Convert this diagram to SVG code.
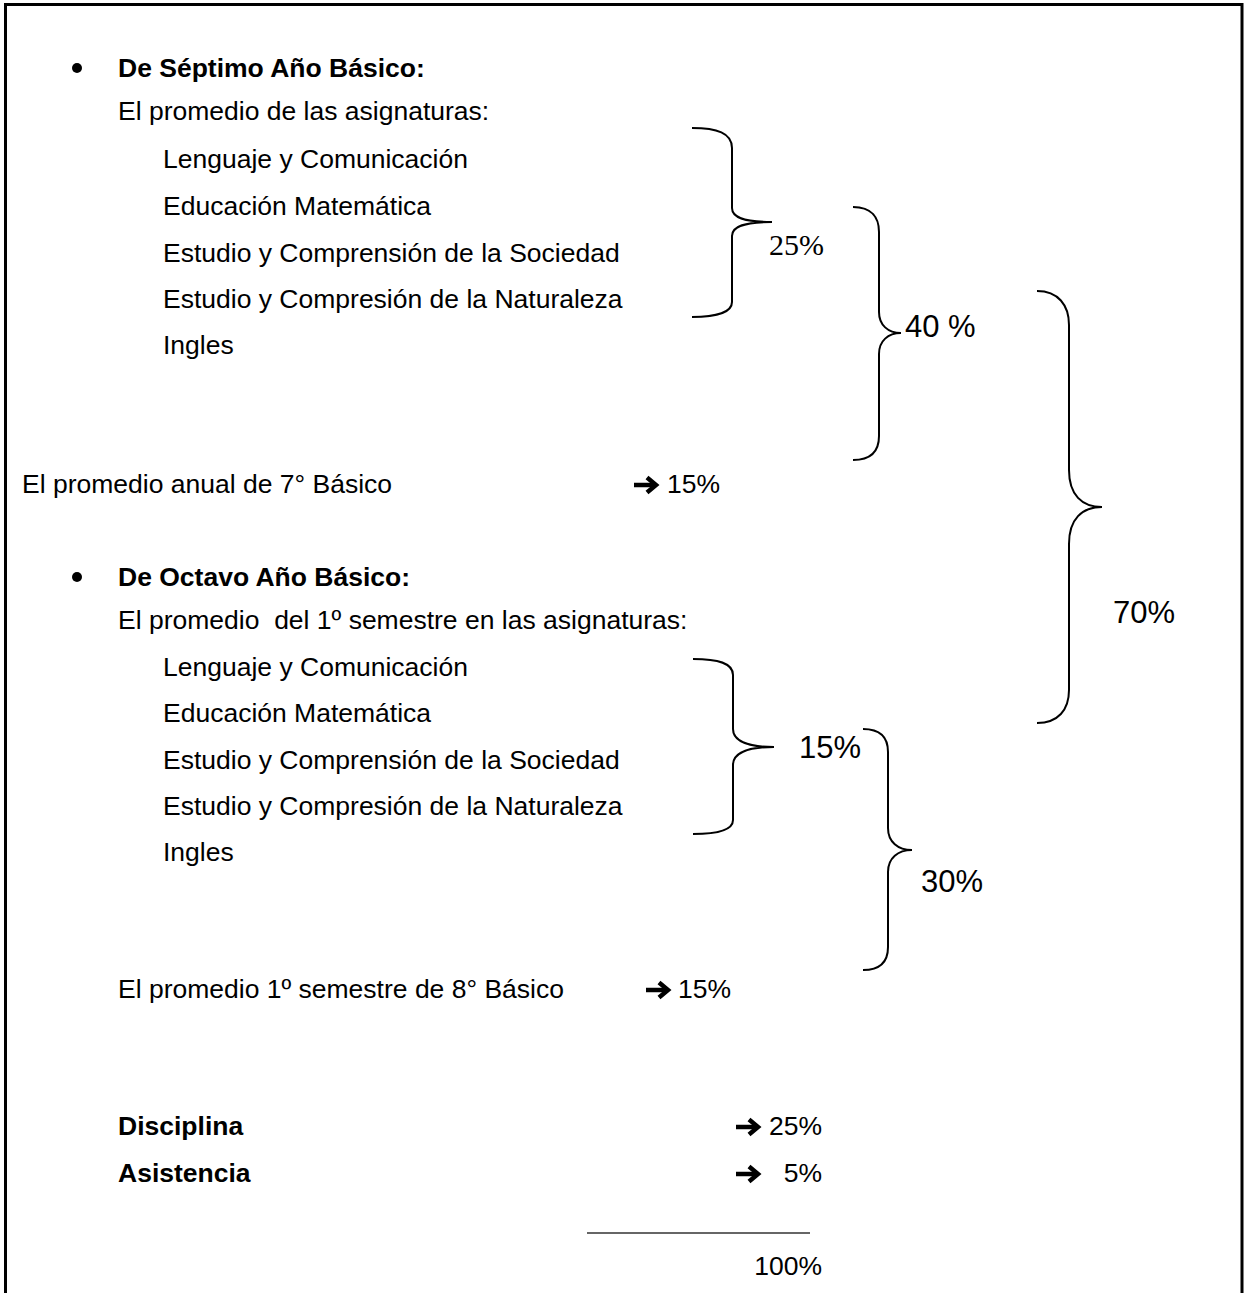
<svg xmlns="http://www.w3.org/2000/svg" width="1245" height="1293" viewBox="0 0 1245 1293">
<defs>
<style>
text{font-family:"Liberation Sans",Arial,sans-serif;fill:#000}
.t{font-size:26.5px}
.b{font-size:26.5px;font-weight:bold}
.pct{font-size:31px}
.ser{font-family:"Liberation Serif","Times New Roman",serif;font-size:30px}
.brace{fill:none;stroke:#000;stroke-width:2}
.pre{white-space:pre}
</style>
<g id="arr">
<path d="M0,0 H21" stroke="#000" stroke-width="4.5" fill="none"/>
<path d="M13,-7.5 L22,0 L13,7.5" stroke="#000" stroke-width="4.5" fill="none" stroke-miterlimit="10"/>
</g>
</defs>
<rect width="1245" height="1293" fill="#fff"/>
<path d="M5.5,1293 V4.5 H1242 V1293" fill="none" stroke="#000" stroke-width="3"/>

<g id="septimo">
<circle cx="77" cy="68" r="5" fill="#000"/>
<text class="b" x="118" y="77">De Séptimo Año Básico:</text>
<text class="t" x="118" y="120">El promedio de las asignaturas:</text>
<text class="t" x="163" y="168">Lenguaje y Comunicación</text>
<text class="t" x="163" y="215">Educación Matemática</text>
<text class="t" x="163" y="262">Estudio y Comprensión de la Sociedad</text>
<text class="t" x="163" y="308">Estudio y Compresión de la Naturaleza</text>
<text class="t" x="163" y="354">Ingles</text>
</g>

<g id="anual7">
<text class="t" x="22" y="493">El promedio anual de 7° Básico</text>
<use href="#arr" x="634" y="485"/>
<text class="t" x="720" y="493" text-anchor="end">15%</text>
</g>

<g id="octavo">
<circle cx="77" cy="577" r="5" fill="#000"/>
<text class="b" x="118" y="586">De Octavo Año Básico:</text>
<text class="t pre" x="118" y="629" xml:space="preserve">El promedio  del 1º semestre en las asignaturas:</text>
<text class="t" x="163" y="676">Lenguaje y Comunicación</text>
<text class="t" x="163" y="722">Educación Matemática</text>
<text class="t" x="163" y="769">Estudio y Comprensión de la Sociedad</text>
<text class="t" x="163" y="815">Estudio y Compresión de la Naturaleza</text>
<text class="t" x="163" y="861">Ingles</text>
</g>

<g id="sem8">
<text class="t" x="118" y="998">El promedio 1º semestre de 8° Básico</text>
<use href="#arr" x="646" y="990"/>
<text class="t" x="731" y="998" text-anchor="end">15%</text>
</g>

<g id="disciplina">
<text class="b" x="118" y="1135">Disciplina</text>
<use href="#arr" x="736" y="1127"/>
<text class="t" x="822" y="1135" text-anchor="end">25%</text>
</g>
<g id="asistencia">
<text class="b" x="118" y="1182">Asistencia</text>
<use href="#arr" x="736" y="1174"/>
<text class="t" x="822" y="1182" text-anchor="end">5%</text>
</g>
<g id="total">
<line x1="587" y1="1233" x2="810" y2="1233" stroke="#333" stroke-width="1.5"/>
<text class="t" x="822" y="1275" text-anchor="end">100%</text>
</g>

<g id="connectors">
<path class="brace" d="M692,128 C717,128 732,133 732,148 V208 C732,218 745,222 772,222 C745,222 732,226 732,236 V302 C732,312 717,317 692,317"/>
<path class="brace" d="M853,207 C872,207 879,218 879,232 V312 C879,325 888,333 901,333 C888,333 879,341 879,354 V436 C879,450 872,460 853,460"/>
<path class="brace" d="M1037,291 C1058,291 1069,305 1069,325 V470 C1069,495 1082,507 1102,507 C1082,507 1069,519 1069,544 V690 C1069,710 1058,723 1037,723"/>
<path class="brace" d="M693,659 C718,659 733,663 733,675 V729 C733,740 746,747 774,747 C746,747 733,754 733,765 V820 C733,830 718,834 693,834"/>
<path class="brace" d="M863,729 C880,729 888,737 888,752 V828 C888,842 898,850 912,850 C898,850 888,858 888,872 V947 C888,962 880,970 863,970"/>
</g>

<g id="labels">
<text class="ser" x="769" y="255">25%</text>
<text x="905" y="337" style="font-size:31px">40 %</text>
<text class="pct" x="1113" y="623">70%</text>
<text class="pct" x="799" y="758">15%</text>
<text class="pct" x="921" y="892">30%</text>
</g>
</svg>
